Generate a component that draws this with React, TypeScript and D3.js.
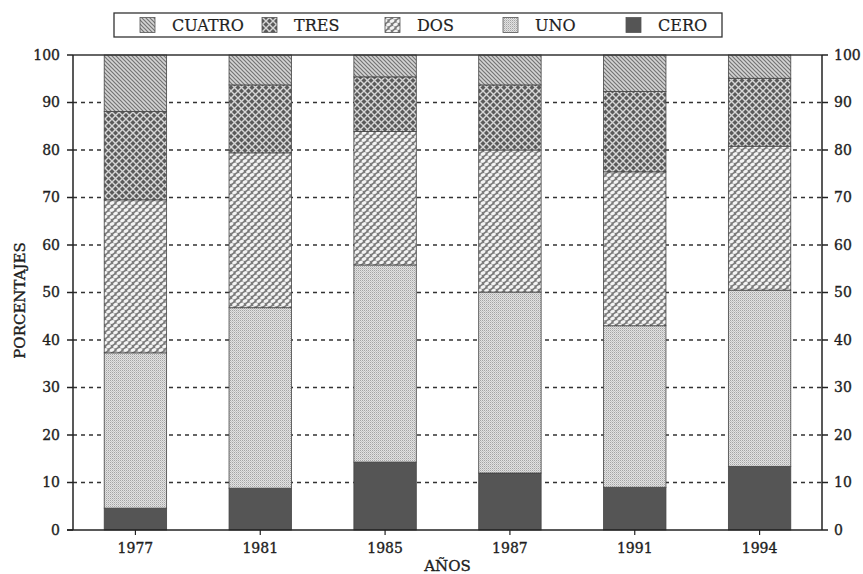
import React from 'react';
import * as d3 from 'd3';

const years = ['1977', '1981', '1985', '1987', '1991', '1994'];
const cero = [4.6, 8.8, 14.3, 12.0, 9.0, 13.4];
const uno = [32.7, 38.0, 41.5, 38.1, 34.0, 37.1];
const dos = [32.2, 32.6, 28.1, 29.9, 32.4, 30.3];
const tres = [18.6, 14.3, 11.5, 13.7, 16.9, 14.3];
const cuatro = [11.9, 6.3, 4.6, 6.3, 7.7, 4.9];
const seriesKeys = ['CERO', 'UNO', 'DOS', 'TRES', 'CUATRO'];
const legendOrder = ['CUATRO', 'TRES', 'DOS', 'UNO', 'CERO'];
const yTicks = [0, 10, 20, 30, 40, 50, 60, 70, 80, 90, 100];

const W = 863, H = 574;
const left = 73, right = 822, top = 55, bottom = 530;
const FONT = 'DejaVu Serif';

const fills: Record<string, string> = {
  CERO: '#555555',
  UNO: 'url(#pUno)',
  DOS: 'url(#pDos)',
  TRES: 'url(#pTres)',
  CUATRO: 'url(#pCuatro)',
};

const legendX: Record<string, number> = { CUATRO: 140, TRES: 262, DOS: 385, UNO: 503, CERO: 626 };

const txt = { fontFamily: FONT, fill: '#1e1e1e', stroke: '#1e1e1e', strokeWidth: 0.35 } as const;

export default function App() {
  const rows = years.map((y, i) => ({
    year: y, CERO: cero[i], UNO: uno[i], DOS: dos[i], TRES: tres[i], CUATRO: cuatro[i],
  }));
  const stacked = d3.stack<any>().keys(seriesKeys)(rows);
  const x = d3.scaleBand().domain(years).range([left, right]).paddingInner(0.5).paddingOuter(0.25);
  const y = d3.scaleLinear().domain([0, 100]).range([bottom, top]);

  return (
    <svg width={W} height={H} style={{ position: 'absolute', left: 0, top: 0, background: '#fff' }}>
      <defs>
        <pattern id="pCuatro" width="4" height="4" patternUnits="userSpaceOnUse">
          <rect width="4" height="4" fill="#d4d4d4" />
          <path d="M0,0 L4,4 M-1,3 L1,5 M3,-1 L5,1" stroke="#747474" strokeWidth="1.2" />
        </pattern>
        <pattern id="pTres" width="7" height="7" patternUnits="userSpaceOnUse">
          <rect width="7" height="7" fill="#5a5a5a" />
          <path d="M0,0 L7,7 M7,0 L0,7" stroke="#d6d6d6" strokeWidth="1.4" />
        </pattern>
        <pattern id="pDos" width="7" height="7" patternUnits="userSpaceOnUse">
          <rect width="7" height="7" fill="#7c7c7c" />
          <ellipse cx="3.5" cy="3.5" rx="2.5" ry="1.7" fill="#f4f4f4" transform="rotate(-25 3.5 3.5)" />
          <ellipse cx="0" cy="0" rx="2.5" ry="1.7" fill="#f4f4f4" transform="rotate(-25 0 0)" />
          <ellipse cx="7" cy="0" rx="2.5" ry="1.7" fill="#f4f4f4" transform="rotate(-25 7 0)" />
          <ellipse cx="0" cy="7" rx="2.5" ry="1.7" fill="#f4f4f4" transform="rotate(-25 0 7)" />
          <ellipse cx="7" cy="7" rx="2.5" ry="1.7" fill="#f4f4f4" transform="rotate(-25 7 7)" />
        </pattern>
        <pattern id="pUno" width="2" height="2" patternUnits="userSpaceOnUse">
          <rect width="2" height="2" fill="#e2e2e2" />
          <rect width="1" height="1" fill="#a4a4a4" />
          <rect x="1" y="1" width="1" height="1" fill="#c4c4c4" />
        </pattern>
      </defs>

      {/* legend */}
      <rect x={114} y={13} width={608} height={24} fill="none" stroke="#333" strokeWidth={1.3} />
      {legendOrder.map((k) => (
        <g key={k}>
          <rect x={legendX[k]} y={17.5} width={15} height={15} fill={fills[k]} stroke="#555" strokeWidth={0.8} />
          <text x={legendX[k] + 32} y={31} fontSize={16} {...txt} strokeWidth={0.2}>{k}</text>
        </g>
      ))}

      {/* grid lines */}
      {yTicks.filter((t) => t > 0 && t < 100).map((t) => (
        <line key={t} x1={left} x2={right} y1={y(t)} y2={y(t)} stroke="#333" strokeWidth={1.5} strokeDasharray="4,4" />
      ))}

      {/* bars */}
      {stacked.map((s) => (
        <g key={s.key}>
          {s.map((d: any) => (
            <rect key={d.data.year} x={x(d.data.year)} width={x.bandwidth()} y={y(d[1])} height={y(d[0]) - y(d[1])}
              fill={fills[s.key]} stroke="#444" strokeWidth={0.8} />
          ))}
        </g>
      ))}

      {/* frame */}
      <line x1={left} x2={right} y1={top} y2={top} stroke="#333" strokeWidth={1.5} />
      <line x1={left - 6} x2={right} y1={bottom} y2={bottom} stroke="#222" strokeWidth={1.5} />
      <line x1={left} x2={left} y1={top} y2={bottom} stroke="#222" strokeWidth={1.5} />
      <line x1={right} x2={right} y1={top} y2={bottom} stroke="#222" strokeWidth={1.5} />

      {/* y ticks */}
      {yTicks.map((t) => (
        <g key={t}>
          <line x1={left - 6} x2={left} y1={y(t)} y2={y(t)} stroke="#222" strokeWidth={1.5} />
          <text x={left - 13} y={y(t)} dy="0.35em" textAnchor="end" fontSize={14} {...txt}>{t}</text>
          <line x1={right} x2={right + 6} y1={y(t)} y2={y(t)} stroke="#222" strokeWidth={1.5} />
          <text x={right + 12} y={y(t)} dy="0.35em" textAnchor="start" fontSize={14} {...txt}>{t}</text>
        </g>
      ))}

      {/* x ticks */}
      {years.map((yr) => {
        const cx = (x(yr) as number) + x.bandwidth() / 2;
        return (
          <g key={yr}>
            <line x1={cx} x2={cx} y1={bottom} y2={bottom + 5} stroke="#222" strokeWidth={1.2} />
            <text x={cx} y={553} textAnchor="middle" fontSize={14} {...txt}>{yr}</text>
          </g>
        );
      })}

      <text x={(left + right) / 2} y={571} textAnchor="middle" fontSize={15} {...txt}>AÑOS</text>
      <text transform={`translate(25,${(top + bottom) / 2 + 8}) rotate(-90)`} textAnchor="middle" fontSize={15} {...txt}>PORCENTAJES</text>
    </svg>
  );
}
